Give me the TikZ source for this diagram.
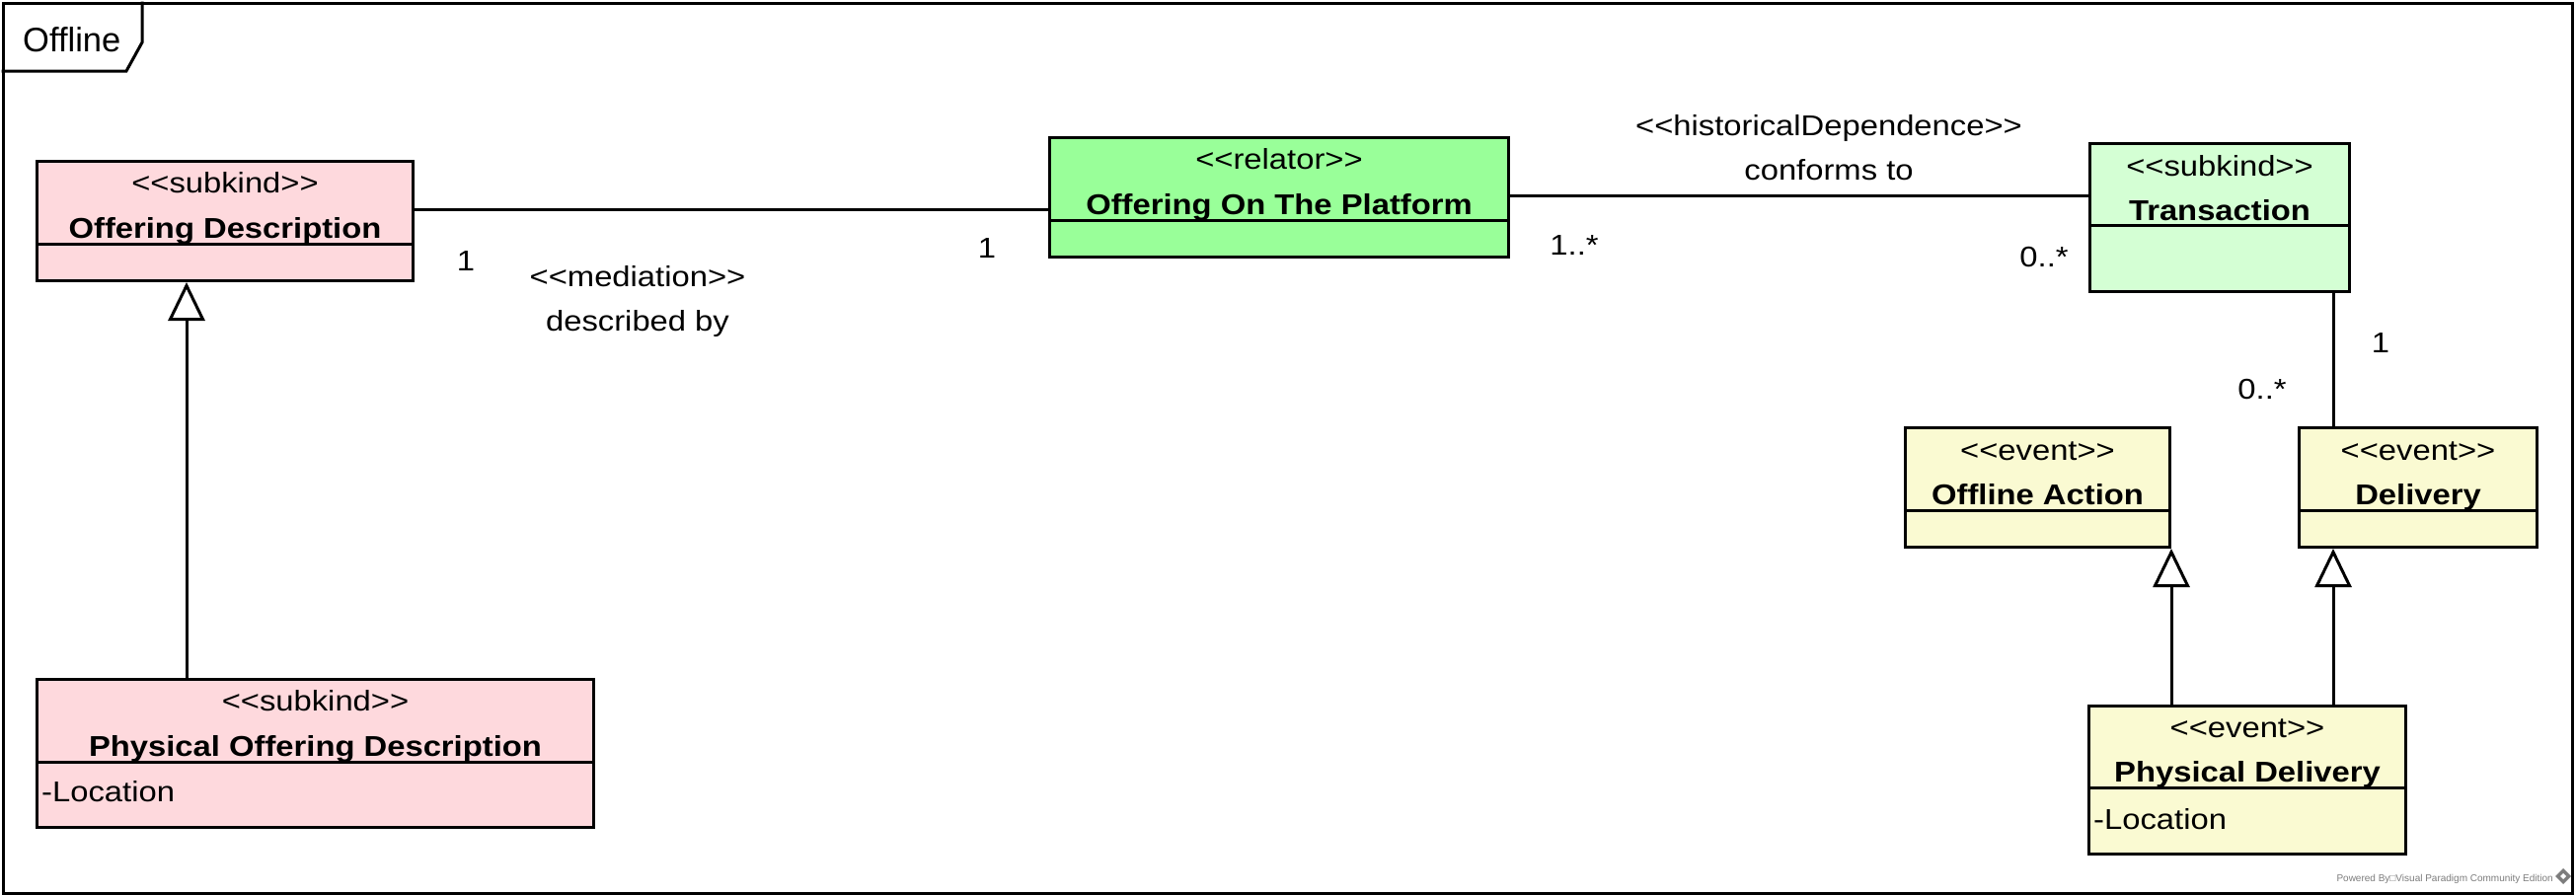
\documentclass[tikz,border=0pt]{standalone}
\usepackage{fontspec}
\newfontfamily\umlfont{Liberation Sans}[FakeStretch=1.13]
\newfontfamily\vpfont{Liberation Sans}
\usetikzlibrary{arrows.meta}
\definecolor{pinkc}{RGB}{254,217,221}
\definecolor{relc}{RGB}{153,255,153}
\definecolor{trc}{RGB}{212,255,212}
\definecolor{evc}{RGB}{250,250,210}
\definecolor{vpgray}{RGB}{125,125,125}
\begin{document}
\begin{tikzpicture}[x=1pt,y=-1pt,
  box/.style={draw, line width=3pt, rectangle, inner sep=0pt, anchor=north west},
  conn/.style={line width=3pt},
  lbl/.style={font=\umlfont\fontsize{29}{33}\selectfont, inner sep=0pt, anchor=base},
  cname/.style={font=\umlfont\bfseries\fontsize{29}{33}\selectfont, inner sep=0pt, anchor=base},
  attr/.style={font=\umlfont\fontsize{29}{33}\selectfont, inner sep=0pt, anchor=base west},
  gen/.style={conn, -{Triangle[open, length=39pt, width=37pt]}}
]
\useasboundingbox (0,0) rectangle (2610,906);
\fill[white] (0,0) rectangle (2610,906);

% frame
\node[draw, line width=3pt, inner sep=0pt, anchor=north west, minimum width=2603.5, minimum height=902.5] (frame) at (1.5,1.5) {};
\draw[line width=3pt] (144,1.5) -- (144,43) -- (128,72) -- (1.5,72);
\node[font=\vpfont\fontsize{34.5}{40}\selectfont, inner sep=0pt, anchor=base west] (tabtxt) at (23,52) {Offline};

% classes
\node[box, fill=pinkc, minimum width=381, minimum height=121] (od) at (36,162) {};
\draw[conn] (od.west |- 0,247) -- (od.east |- 0,247);
\node[lbl] (odst) at (od.north |- 0,195) {<<subkind>>};
\node[cname] (odnm) at (od.north |- 0,241) {Offering Description};

\node[box, fill=pinkc, minimum width=564, minimum height=150] (pod) at (36,687) {};
\draw[conn] (pod.west |- 0,772) -- (pod.east |- 0,772);
\node[lbl] (podst) at (pod.north |- 0,720) {<<subkind>>};
\node[cname] (podnm) at (pod.north |- 0,766) {Physical Offering Description};
\node[attr] (podat) at (42,812) {-Location};

\node[box, fill=relc, minimum width=465, minimum height=121] (ootp) at (1062,138) {};
\draw[conn] (ootp.west |- 0,223) -- (ootp.east |- 0,223);
\node[lbl] (ootpst) at (ootp.north |- 0,171) {<<relator>>};
\node[cname] (ootpnm) at (ootp.north |- 0,217) {Offering On The Platform};

\node[box, fill=trc, minimum width=263, minimum height=150] (tr) at (2116,144) {};
\draw[conn] (tr.west |- 0,228) -- (tr.east |- 0,228);
\node[lbl] (trst) at (tr.north |- 0,178) {<<subkind>>};
\node[cname] (trnm) at (tr.north |- 0,223) {Transaction};

\node[box, fill=evc, minimum width=268, minimum height=121] (oa) at (1929,432) {};
\draw[conn] (oa.west |- 0,517) -- (oa.east |- 0,517);
\node[lbl] (oast) at (oa.north |- 0,466) {<<event>>};
\node[cname] (oanm) at (oa.north |- 0,511) {Offline Action};

\node[box, fill=evc, minimum width=241, minimum height=121] (del) at (2328,432) {};
\draw[conn] (del.west |- 0,517) -- (del.east |- 0,517);
\node[lbl] (delst) at (del.north |- 0,466) {<<event>>};
\node[cname] (delnm) at (del.north |- 0,511) {Delivery};

\node[box, fill=evc, minimum width=321, minimum height=150] (pd) at (2115,714) {};
\draw[conn] (pd.west |- 0,798) -- (pd.east |- 0,798);
\node[lbl] (pdst) at (pd.north |- 0,747) {<<event>>};
\node[cname] (pdnm) at (pd.north |- 0,792) {Physical Delivery};
\node[attr] (pdat) at (2121,840) {-Location};

% associations
\draw[conn] (od.east |- 0,212) -- (ootp.west |- 0,212);
\node[lbl] (m1) at (472,274) {1};
\node[lbl] (m2) at (1000,261) {1};
\node[lbl] (medst) at (646,290) {<<mediation>>};
\node[lbl] (mednm) at (646,335) {described by};

\draw[conn] (ootp.east |- 0,198) -- (tr.west |- 0,198);
\node[lbl] (m3) at (1595,258) {1..*};
\node[lbl] (m4) at (2071,270) {0..*};
\node[lbl] (hdst) at (1853,137) {<<historicalDependence>>};
\node[lbl] (hdnm) at (1853,182) {conforms to};

\draw[conn] (tr.south -| 2364,0) -- (del.north -| 2364,0);
\node[lbl] (m5) at (2412,357) {1};
\node[lbl] (m6) at (2292,404) {0..*};

% generalizations
\draw[gen] (pod.north -| 189,0) -- (od.south -| 189,0);
\draw[gen] (pd.north -| oa.east) -- (oa.south east);
\draw[gen] (pd.north -| 2364,0) -- (del.south -| 2364,0);

% footer
\node[font=\vpfont\fontsize{10}{12}\selectfont, text=vpgray, inner sep=0pt, anchor=base east] (vp) at (2587,893) {Powered By□Visual Paradigm Community Edition};
\fill[vpgray] (2597,880) -- (2605,888) -- (2597,896) -- (2589,888) -- cycle;
\fill[white] (2597,885) -- (2600,888) -- (2597,891) -- (2594,888) -- cycle;
\end{tikzpicture}
\end{document}
